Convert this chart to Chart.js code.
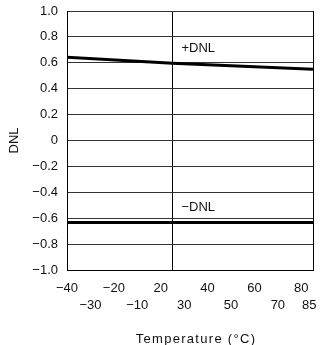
<!DOCTYPE html>
<html>
<head>
<meta charset="utf-8">
<script src="https://cdn.jsdelivr.net/npm/chart.js@4/dist/chart.umd.min.js"></script>
<style>
  html, body { margin: 0; padding: 0; background: #fff; }
  #wrap { width: 322px; height: 345px; }
</style>
</head>
<body>
<div id="wrap"><canvas id="c" width="322" height="345"></canvas></div>
<script>
// Temperature axis tick labels and their evenly spaced axis slots
const xTickTemps = [-40, -30, -20, -10, 20, 30, 40, 50, 60, 70, 80, 85];
const xTickSlots = [0, 1, 2, 3, 4, 5, 6, 7, 8, 9, 10, 10.5];
// Vertical reference lines (plot edges and 25 °C)
const gridTemps = [-40, 25, 85];

// +DNL and -DNL versus temperature
const plusTemps = [-40, 25, 85];
const plusDNL = [0.643, 0.597, 0.550];
const minusTemps = [-40, 85];
const minusDNL = [-0.633, -0.633];

// Curve captions
const captionText = ['+DNL', '\u2212DNL'];
const captionTemp = [25, 25];
const captionValue = [0.71, -0.52];

const FONT = '"Liberation Sans", Arial, sans-serif';
const INK = '#111';

// map a temperature onto the slot axis (piecewise linear between labelled ticks)
function toSlot(t) {
  for (let i = 0; i < xTickTemps.length - 1; i++) {
    const a = xTickTemps[i], b = xTickTemps[i + 1];
    if (t >= a && t <= b) {
      return xTickSlots[i] + (t - a) / (b - a) * (xTickSlots[i + 1] - xTickSlots[i]);
    }
  }
  return t < xTickTemps[0] ? xTickSlots[0] : xTickSlots[xTickSlots.length - 1];
}

const fmt = v => Math.abs(v) < 1e-9 ? '0' : v.toFixed(1).replace('-', '\u2212');

const plusData = plusTemps.map((t, i) => ({ x: toSlot(t), y: plusDNL[i] }));
const minusData = minusTemps.map((t, i) => ({ x: toSlot(t), y: minusDNL[i] }));

const textPlugin = {
  id: 'axisText',
  afterDraw(chart) {
    const ctx = chart.ctx;
    const xs = chart.scales.x, ys = chart.scales.y;
    const area = chart.chartArea;
    ctx.save();
    ctx.fillStyle = INK;
    ctx.font = '13px ' + FONT;
    ctx.textBaseline = 'middle';
    ctx.textAlign = 'center';
    // two staggered rows of temperature labels
    xTickTemps.forEach((t, i) => {
      const label = String(t).replace('-', '\u2212');
      const w = ctx.measureText(label).width;
      let px = xs.getPixelForValue(toSlot(t));
      if (px + w / 2 > area.right + 3.5) px = area.right + 3.5 - w / 2;
      const py = area.bottom + (i % 2 === 0 ? 18 : 35);
      ctx.fillText(label, px, py);
    });
    // axis title
    ctx.letterSpacing = '1.3px';
    ctx.fillText('Temperature (\u00B0C)', (area.left + area.right) / 2 + 6, area.bottom + 69);
    ctx.letterSpacing = '0px';
    // curve captions
    ctx.textAlign = 'left';
    captionText.forEach((s, i) => {
      ctx.fillText(s, xs.getPixelForValue(toSlot(captionTemp[i])) + 9, ys.getPixelForValue(captionValue[i]));
    });
    ctx.restore();
  }
};

new Chart(document.getElementById('c'), {
  type: 'line',
  data: {
    datasets: [
      { label: '+DNL', data: plusData, borderColor: '#000', borderWidth: 3, pointRadius: 0, tension: 0 },
      { label: '-DNL', data: minusData, borderColor: '#000', borderWidth: 3, pointRadius: 0, tension: 0 }
    ]
  },
  options: {
    responsive: false,
    animation: false,
    events: [],
    layout: { padding: { left: 0, right: 9, top: 11, bottom: 0 } },
    plugins: { legend: { display: false }, tooltip: { enabled: false } },
    scales: {
      x: {
        type: 'linear',
        min: toSlot(xTickTemps[0]),
        max: toSlot(xTickTemps[xTickTemps.length - 1]),
        afterBuildTicks: s => { s.ticks = gridTemps.map(t => ({ value: toSlot(t) })); },
        afterFit: s => { s.height = 75; s.paddingLeft = 0; s.paddingRight = 0; },
        ticks: { display: false },
        grid: { color: '#000', lineWidth: 1, drawTicks: false },
        border: { display: true, color: '#000', width: 1 }
      },
      y: {
        min: -1,
        max: 1,
        afterFit: s => { s.width = 67; s.paddingTop = 0; s.paddingBottom = 0; },
        ticks: {
          stepSize: 0.2,
          padding: 9,
          color: INK,
          font: { family: FONT, size: 13 },
          callback: v => fmt(v)
        },
        grid: { color: '#333', lineWidth: 1, drawTicks: false },
        border: { display: true, color: '#000', width: 1 },
        title: {
          display: true,
          text: 'DNL',
          color: INK,
          font: { family: FONT, size: 13, lineHeight: 1 },
          padding: { top: 8, bottom: 0 }
        }
      }
    }
  },
  plugins: [textPlugin]
});
</script>
</body>
</html>
